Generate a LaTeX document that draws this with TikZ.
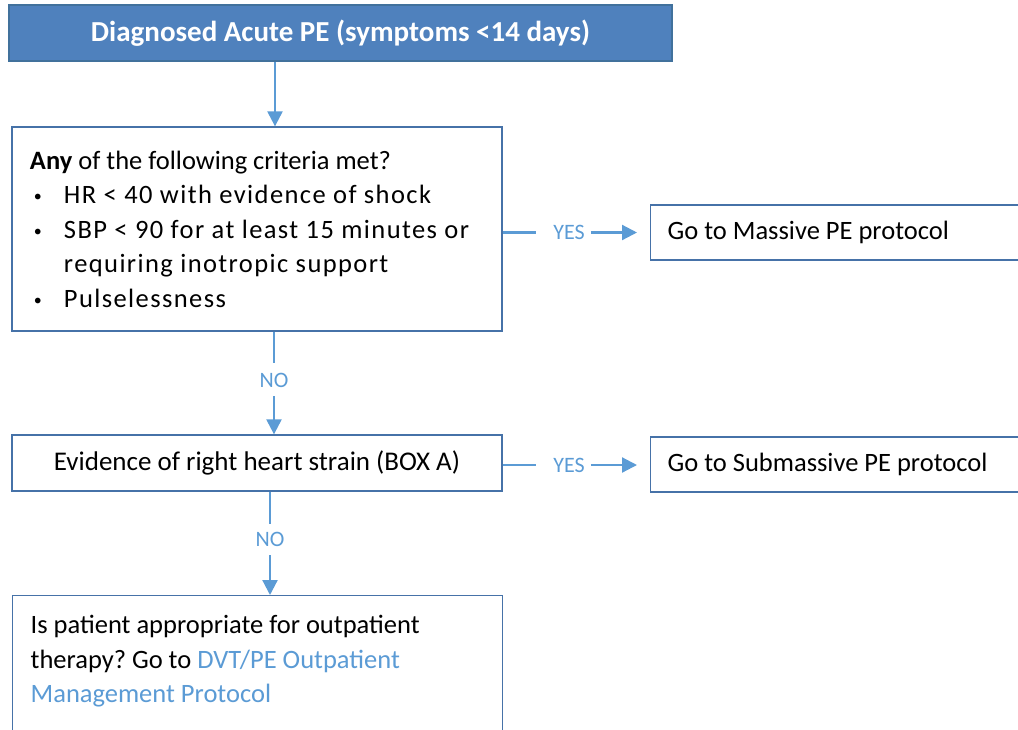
\documentclass[tikz,border=0pt]{standalone}
\usepackage{fontspec}
\setmainfont{Carlito}
\newfontfamily\spaced[LetterSpace=5.3]{Carlito}
\usetikzlibrary{arrows.meta}
\definecolor{topfill}{HTML}{4F81BD}
\definecolor{topline}{HTML}{41719C}
\definecolor{boxline}{HTML}{4672A8}
\definecolor{arrowc}{HTML}{5B9BD5}
\newcommand{\bulletitem}{\hspace*{4pt}\makebox[30pt][l]{\fontsize{16}{16}\selectfont\raisebox{2pt}{•}}}
\newcommand{\ns}{\spaceskip=0pt\xspaceskip=0pt\frenchspacing}
\begin{document}
\begin{tikzpicture}[x=1pt,y=1pt,
  box/.style={draw=boxline, line width=1.3pt, fill=white, font=\fontsize{26.5}{34.5}\selectfont, inner sep=0pt},
  conn/.style={draw=arrowc, line width=2.2pt},
  arr/.style={conn, -{Triangle[length=15pt,width=15pt]}},
  lbl/.style={text=arrowc, font=\fontsize{22}{26}\selectfont, inner sep=0pt}]
\useasboundingbox (0,0) rectangle (1018,-729);
\node[draw=topline, fill=topfill, line width=1.3pt, minimum width=663, minimum height=56, inner sep=0pt,
      text=white, font=\bfseries\fontsize{29}{32}\selectfont] (top) at (340.5,-33) {Diagnosed Acute PE (symptoms <14 days)};
\node[box, minimum width=490, minimum height=204, text width=454, align=flush left] (b2) at (257,-229)
  {\ns\textbf{Any} of the following criteria met?\\
   \bulletitem{\spaced HR < 40 with evidence of shock}\\
   \bulletitem{\spaced SBP < 90 for at least 15 minutes or}\\
   \hspace*{34pt}{\spaced requiring inotropic support}\\
   \bulletitem{\spaced Pulselessness}};
\node[box, anchor=west, minimum width=380, minimum height=55, text width=346, inner xsep=17pt, align=flush left] (b3) at (650,-232.5)
  {\ns Go to Massive PE protocol};
\node[box, minimum width=490, minimum height=56, font=\fontsize{27}{34.5}\selectfont] (b4) at (257,-463)
  {Evidence of right heart strain (BOX A)};
\node[box, anchor=west, minimum width=380, minimum height=55, text width=346, inner xsep=17pt, align=flush left] (b5) at (650,-464.5)
  {\ns Go to Submassive PE protocol};
\node[box, anchor=north west, text width=454, inner xsep=18pt, inner ysep=20pt, align=flush left, minimum width=490] (b6) at (12,-595)
  {\ns Is patient appropriate for outpatient\\
   therapy? Go to \textcolor{arrowc}{DVT/PE Outpatient}\\
   \textcolor{arrowc}{Management Protocol}\\[60pt]\mbox{}};
\node[lbl] (yes1) at (569,-232.5) {YES};
\node[lbl] (yes2) at (569,-465) {YES};
\node[lbl] (no1) at (274,-380) {NO};
\node[lbl] (no2) at (270,-539) {NO};
\coordinate (c1) at (275,0);
\draw[arr] (top.south -| c1) -- (b2.north -| c1);
\draw[conn, shorten >=17pt] (b2.east |- yes1) -- (yes1.west);
\draw[arr, shorten <=6pt, shorten >=13pt] (yes1.east) -- (b3.west |- yes1);
\draw[conn, shorten >=10pt] (b2.south -| no1) -- (no1.north);
\draw[arr, shorten <=9pt] (no1.south) -- (b4.north -| no1);
\draw[conn, shorten >=17pt] (b4.east |- yes2) -- (yes2.west);
\draw[arr, shorten <=6pt, shorten >=13pt] (yes2.east) -- (b5.west |- yes2);
\draw[conn, shorten >=8pt] (b4.south -| no2) -- (no2.north);
\draw[arr, shorten <=9pt] (no2.south) -- (b6.north -| no2);
\end{tikzpicture}
\end{document}
